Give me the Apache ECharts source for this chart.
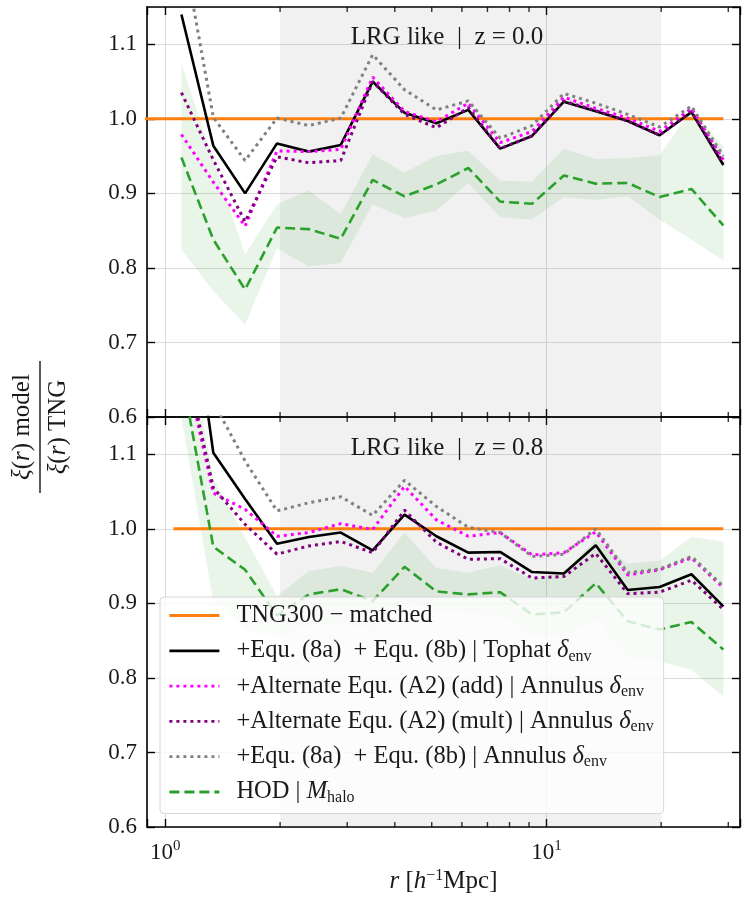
<!DOCTYPE html>
<html>
<head>
<meta charset="utf-8">
<script src="https://cdn.jsdelivr.net/npm/echarts@6/dist/echarts.min.js"></script>
<style>
  html, body { margin: 0; padding: 0; background: #fff; }
  #con { width: 748px; height: 901px; }
</style>
</head>
<body>
<div id="con"></div>
<script>
// r bins [h^-1 Mpc]
var rBins = [1.102, 1.336, 1.619, 1.963, 2.380, 2.886, 3.499, 4.242, 5.143,
             6.235, 7.558, 9.166, 11.11, 13.47, 16.34, 19.81, 24.01, 29.12];

// panel 1 : z = 0.0
var tophat0 = [1.140, 0.964, 0.900, 0.967, 0.956, 0.965, 1.050, 1.008, 0.994, 1.012, 0.960, 0.977, 1.023, 1.010, 0.997, 0.978, 1.009, 0.938];
var add0    = [0.979, 0.915, 0.856, 0.957, 0.956, 0.959, 1.056, 1.010, 0.996, 1.021, 0.968, 0.983, 1.029, 1.014, 1.001, 0.983, 1.014, 0.945];
var mult0   = [1.035, 0.945, 0.862, 0.949, 0.941, 0.944, 1.050, 1.006, 0.988, 1.015, 0.960, 0.977, 1.024, 1.011, 0.997, 0.978, 1.010, 0.941];
var annul0  = [1.240, 1.002, 0.944, 1.001, 0.991, 1.001, 1.086, 1.039, 1.012, 1.024, 0.974, 0.991, 1.034, 1.021, 1.006, 0.989, 1.017, 0.950];
var hod0    = [0.948, 0.838, 0.771, 0.854, 0.852, 0.839, 0.918, 0.896, 0.912, 0.934, 0.889, 0.886, 0.924, 0.913, 0.914, 0.895, 0.906, 0.857];
var hodLo0  = [0.825, 0.769, 0.724, 0.826, 0.802, 0.807, 0.885, 0.867, 0.877, 0.914, 0.868, 0.865, 0.895, 0.891, 0.896, 0.865, 0.838, 0.810];
var hodHi0  = [1.074, 0.945, 0.818, 0.885, 0.904, 0.872, 0.952, 0.928, 0.950, 0.957, 0.917, 0.916, 0.960, 0.946, 0.947, 0.951, 1.012, 0.963];

// panel 2 : z = 0.8
var tophat1 = [1.410, 1.102, 1.040, 0.980, 0.989, 0.995, 0.971, 1.019, 0.990, 0.968, 0.969, 0.942, 0.940, 0.978, 0.918, 0.922, 0.939, 0.896];
var add1    = [1.240, 1.048, 1.026, 0.990, 0.995, 1.007, 0.999, 1.057, 1.012, 0.990, 0.995, 0.965, 0.968, 0.996, 0.938, 0.945, 0.961, 0.921];
var mult1   = [1.250, 1.055, 1.006, 0.966, 0.977, 0.983, 0.968, 1.025, 0.982, 0.959, 0.960, 0.934, 0.936, 0.967, 0.913, 0.915, 0.931, 0.892];
var annul1  = [1.400, 1.170, 1.091, 1.024, 1.035, 1.043, 1.018, 1.065, 1.030, 1.002, 0.995, 0.963, 0.966, 1.000, 0.941, 0.946, 0.963, 0.923];
var hod1    = [1.210, 0.976, 0.945, 0.884, 0.912, 0.919, 0.903, 0.949, 0.916, 0.912, 0.915, 0.885, 0.888, 0.927, 0.876, 0.865, 0.875, 0.838];
var hodLo1  = [1.150, 0.903, 0.863, 0.856, 0.870, 0.874, 0.863, 0.905, 0.889, 0.886, 0.884, 0.856, 0.856, 0.878, 0.827, 0.822, 0.811, 0.775];
var hodHi1  = [1.300, 1.068, 0.988, 0.910, 0.943, 0.950, 0.941, 0.995, 0.947, 0.941, 0.951, 0.932, 0.941, 0.986, 0.953, 0.957, 0.989, 0.983];

// TNG reference line ends
var tngR0 = [0.80, 29.12];
var tngR1 = [1.05, 29.12];

var panelTitles = ['LRG like  |  z = 0.0', 'LRG like  |  z = 0.8'];
var fitRange = [2, 20];
var minorTicks = [2, 3, 4, 5, 6, 7, 8, 9, 20, 30];
var xRange = [0.895, 32.2];
var yRange = [0.6, 1.15];

var names = ['tng', 'tophat', 'add', 'mult', 'annulus', 'hod'];
var legendLabels = {
    tng: 'TNG300 − matched',
    tophat: '+Equ. (8a)  + Equ. (8b) | Tophat {i|δ}{sub|env}',
    add: '+Alternate Equ. (A2) (add) | Annulus {i|δ}{sub|env}',
    mult: '+Alternate Equ. (A2) (mult) | Annulus {i|δ}{sub|env}',
    annulus: '+Equ. (8a)  + Equ. (8b) | Annulus {i|δ}{sub|env}',
    hod: 'HOD | {i|M}{sub|halo}'
};

var FONT = 'Liberation Serif';
var TXT = '#1a1a1a';
var mkRich = function(size) {
    return {
        i: {fontFamily: FONT, fontStyle: 'italic', fontSize: size, color: TXT},
        sub: {fontFamily: FONT, fontSize: Math.round(size * 0.65), verticalAlign: 'bottom', lineHeight: 15, color: TXT},
        sup: {fontFamily: FONT, fontSize: Math.round(size * 0.65), verticalAlign: 'top', lineHeight: 14, color: TXT}
    };
};

var zip = function(xs, ys) {
    var out = [];
    for (var i = 0; i < xs.length; i++) out.push([xs[i], ys[i]]);
    return out;
};

var grids = [
    {left: 147, right: 8, top: 7, height: 410},
    {left: 147, right: 8, top: 417, height: 410}
];

var mkX = function(g, pos, labels) {
    return {
        type: 'log', logBase: 10, gridIndex: g, position: pos,
        min: xRange[0], max: xRange[1],
        axisLine: {show: true, onZero: false, lineStyle: {color: '#000', width: 1.6}},
        axisTick: {show: true, inside: true, length: 8, lineStyle: {color: '#000', width: 1.4}},
        axisLabel: {
            show: labels, margin: 12, color: TXT, fontFamily: FONT, fontSize: 23, lineHeight: 28,
            rich: mkRich(23),
            formatter: function(v) {
                var e = Math.log10(v);
                if (Math.abs(e - Math.round(e)) > 1e-6) return '';
                return '10{sup|' + Math.round(e) + '}';
            }
        },
        splitLine: {show: pos === 'bottom', lineStyle: {color: '#dadada', width: 1}},
        name: labels ? '{i|r} [{i|h}{sup|−1}Mpc]' : '',
        nameLocation: 'middle', nameGap: 40,
        nameTextStyle: {fontFamily: FONT, fontSize: 25, color: TXT, lineHeight: 28, rich: mkRich(25)}
    };
};
var mkY = function(g, pos) {
    return {
        type: 'value', gridIndex: g, position: pos,
        min: yRange[0], max: yRange[1], interval: 0.1,
        axisLine: {show: true, onZero: false, lineStyle: {color: '#000', width: 1.6}},
        axisTick: {show: true, inside: true, length: 8, lineStyle: {color: '#000', width: 1.4}},
        axisLabel: {
            show: pos === 'left', margin: 10, color: TXT, fontFamily: FONT, fontSize: 23,
            showMaxLabel: false,
            formatter: function(v) { return v.toFixed(1); }
        },
        splitLine: {show: pos === 'left', lineStyle: {color: '#dadada', width: 1}}
    };
};

var lineS = function(name, p, xs, ys, color, width, type) {
    return {
        name: name, type: 'line', xAxisIndex: p * 2, yAxisIndex: p * 2,
        data: zip(xs, ys), symbol: 'none', showSymbol: false,
        lineStyle: {color: color, width: width, type: type, cap: 'butt'},
        itemStyle: {color: color},
        z: 3
    };
};

var bandS = function(p, lo, hi) {
    return {
        type: 'custom', xAxisIndex: p * 2, yAxisIndex: p * 2, clip: true, silent: true, z: 2,
        data: [[rBins[0], lo[0]]],
        renderItem: function(params, api) {
            var pts = [];
            for (var i = 0; i < rBins.length; i++) pts.push(api.coord([rBins[i], hi[i]]));
            for (var j = rBins.length - 1; j >= 0; j--) pts.push(api.coord([rBins[j], lo[j]]));
            var cs = params.coordSys;
            return {
                type: 'group',
                clipPath: {type: 'rect', shape: {x: cs.x, y: cs.y, width: cs.width, height: cs.height}},
                children: [{type: 'polygon', shape: {points: pts}, style: {fill: 'rgba(44,160,44,0.11)'}}]
            };
        }
    };
};

var panelSeries = function(p, d) {
    var out = [];
    // shaded fitting range
    out.push({
        type: 'line', xAxisIndex: p * 2, yAxisIndex: p * 2, data: [], silent: true, z: 1,
        markArea: {
            silent: true,
            itemStyle: {color: 'rgba(128,128,128,0.11)'},
            data: [[{xAxis: fitRange[0]}, {xAxis: fitRange[1]}]]
        }
    });
    out.push(bandS(p, d.lo, d.hi));
    out.push(lineS('tng', p, d.tngR, [1, 1], '#ff7f0e', 3, 'solid'));
    out.push(lineS('tophat', p, rBins, d.tophat, '#000000', 2.6, 'solid'));
    out.push(lineS('add', p, rBins, d.add, '#ff00ff', 3, [3, 4]));
    out.push(lineS('mult', p, rBins, d.mult, '#800080', 3, [3, 4]));
    out.push(lineS('annulus', p, rBins, d.annul, '#808080', 3, [3, 4]));
    out.push(lineS('hod', p, rBins, d.hod, '#2ca02c', 2.6, [10, 5]));
    // inward minor ticks on bottom and top edges
    var tb = [], tt = [];
    for (var i = 0; i < minorTicks.length; i++) {
        tb.push([minorTicks[i], yRange[0]]);
        tt.push([minorTicks[i], yRange[1]]);
    }
    out.push({type: 'scatter', xAxisIndex: p * 2, yAxisIndex: p * 2, data: tb, clip: false, silent: true,
        symbol: 'rect', symbolSize: [1.4, 5], symbolOffset: [0, -2.5], itemStyle: {color: '#000'}, z: 5});
    out.push({type: 'scatter', xAxisIndex: p * 2, yAxisIndex: p * 2, data: tt, clip: false, silent: true,
        symbol: 'rect', symbolSize: [1.4, 5], symbolOffset: [0, 2.5], itemStyle: {color: '#000'}, z: 5});
    return out;
};

var series = panelSeries(0, {lo: hodLo0, hi: hodHi0, tngR: tngR0, tophat: tophat0, add: add0, mult: mult0, annul: annul0, hod: hod0})
    .concat(panelSeries(1, {lo: hodLo1, hi: hodHi1, tngR: tngR1, tophat: tophat1, add: add1, mult: mult1, annul: annul1, hod: hod1}));

var myChart = echarts.init(document.getElementById('con'));

var option = {
    animation: false,
    backgroundColor: '#fff',
    grid: grids,
    xAxis: [mkX(0, 'bottom', false), mkX(0, 'top', false), mkX(1, 'bottom', true), mkX(1, 'top', false)],
    yAxis: [mkY(0, 'left'), mkY(0, 'right'), mkY(1, 'left'), mkY(1, 'right')],
    legend: {
        data: names, orient: 'vertical', left: 160, top: 597,
        itemWidth: 50, itemHeight: 14, itemGap: 8.3,
        padding: [5, 10, 8, 8],
        backgroundColor: 'rgba(255,255,255,0.8)', borderColor: '#d6d6d6', borderWidth: 1, borderRadius: 4,
        itemStyle: {opacity: 0},
        lineStyle: {width: 2.8},
        textStyle: {fontFamily: FONT, fontSize: 24.5, color: TXT, lineHeight: 27, rich: mkRich(24.5), padding: [0, 0, 0, 12]},
        formatter: function(name) { return legendLabels[name]; },
        selectedMode: false
    },
    graphic: [
        {type: 'text', x: 447, y: 37, z: 10, style: {text: panelTitles[0], font: '25px "Liberation Serif"', fill: TXT, textAlign: 'center', textVerticalAlign: 'middle'}},
        {type: 'text', x: 447, y: 448, z: 10, style: {text: panelTitles[1], font: '25px "Liberation Serif"', fill: TXT, textAlign: 'center', textVerticalAlign: 'middle'}},
        {
            type: 'group', x: 40, y: 427, rotation: Math.PI / 2,
            children: [
                {type: 'text', x: 0, y: -18, style: {text: '{i|ξ}({i|r}) model', rich: mkRich(25), font: '25px "Liberation Serif"', fill: TXT, textAlign: 'center', textVerticalAlign: 'middle'}},
                {type: 'line', shape: {x1: -66, y1: 0, x2: 66, y2: 0}, style: {stroke: '#000', lineWidth: 1.3}},
                {type: 'text', x: 0, y: 18, style: {text: '{i|ξ}({i|r}) TNG', rich: mkRich(25), font: '25px "Liberation Serif"', fill: TXT, textAlign: 'center', textVerticalAlign: 'middle'}}
            ]
        }
    ],
    series: series
};
myChart.setOption(option);
</script>
</body>
</html>
